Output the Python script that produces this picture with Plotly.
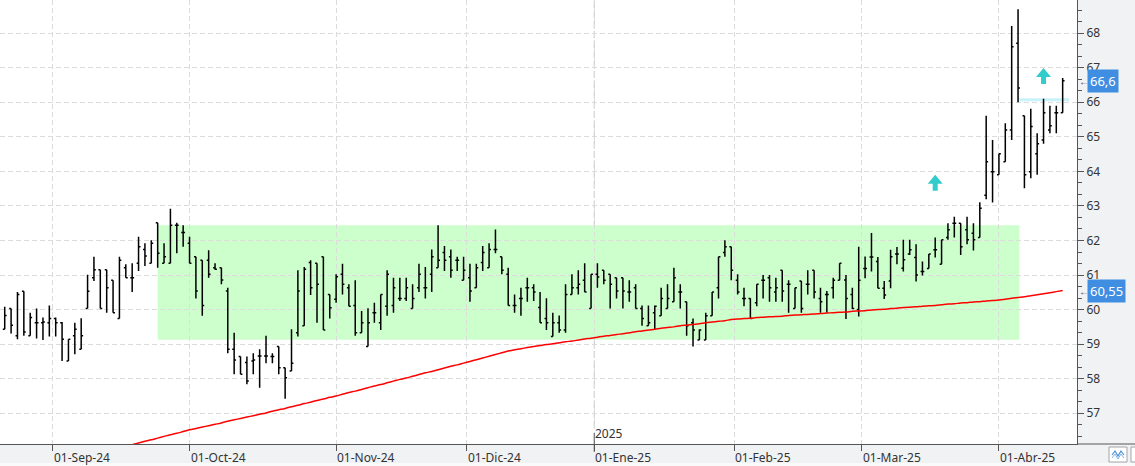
import pandas as pd
import plotly.graph_objects as go

# ---------------- data ----------------
holidays = ["2024-12-25", "2024-12-26", "2025-01-01"]
dates = [d for d in pd.bdate_range("2024-08-21", "2025-04-15") if d.strftime("%Y-%m-%d") not in holidays]

opens = [59.43, 60.03, 59.24, 60.53, 59.24, 59.62, 59.62, 59.62, 59.74, 59.62,
         58.51, 59.24, 58.85, 60.03, 60.92, 61.15, 61.15, 60.85, 59.74, 61.21,
         60.92, 61.34, 61.74, 61.34, 62.51, 61.34, 61.34, 62.44, 62.23, 61.92,
         61.53, 61.43, 61.43, 61.21, 61.21, 60.54, 58.85, 58.64, 58.47, 58.51,
         58.66, 58.66, 58.64, 58.93, 58.32, 58.22, 59.33, 59.53, 61.36, 61.34,
         61.53, 60.44, 60.30, 61.02, 60.63, 60.12, 59.33, 58.93, 59.91, 59.62,
         60.10, 60.12, 60.32, 60.32, 60.03, 60.63, 60.63, 61.02, 61.21, 61.65,
         61.53, 61.43, 60.85, 60.92, 60.63, 61.36, 61.21, 61.74, 61.53, 61.02,
         60.12, 60.32, 60.63, 60.63, 60.06, 59.74, 59.22, 59.62, 59.41, 60.44,
         60.63, 60.85, 60.03, 61.02, 61.14, 61.02, 60.92, 60.92, 60.51, 60.63,
         60.03, 59.53, 59.91, 59.82, 60.03, 60.23, 60.51, 60.23, 59.62, 59.12,
         59.12, 59.82, 60.63, 61.65, 61.82, 60.85, 60.32, 60.32, 60.20, 60.85,
         60.92, 60.51, 61.14, 60.73, 60.03, 60.83, 60.73, 61.14, 60.32, 60.44,
         60.63, 60.85, 60.86, 60.44, 60.00, 61.19, 61.52, 61.39, 60.62, 60.83,
         61.61, 61.20, 61.61, 61.51, 61.10, 61.19, 61.73, 61.31, 62.09, 62.50,
         62.50, 62.31, 62.21, 62.09, 63.31, 63.99, 63.90, 64.28, 65.20, 67.71,
         65.61, 63.99, 64.51, 64.91, 65.20, 65.70, 65.70]
highs = [60.08, 60.03, 60.51, 60.53, 59.91, 60.03, 59.77, 60.12, 59.77, 59.64,
         59.14, 59.62, 59.75, 61.01, 61.53, 61.15, 61.15, 60.85, 61.53, 61.31,
         61.34, 62.11, 61.92, 62.01, 62.51, 61.92, 62.92, 62.51, 62.44, 62.11,
         61.53, 61.43, 61.72, 61.34, 61.21, 60.63, 59.33, 58.64, 58.64, 58.74,
         58.85, 59.24, 58.74, 58.93, 58.32, 59.43, 61.14, 61.23, 61.43, 61.34,
         61.53, 60.44, 61.02, 61.33, 60.73, 60.85, 59.96, 60.04, 60.20, 60.44,
         61.14, 60.92, 60.92, 60.92, 60.73, 61.33, 61.23, 61.74, 62.44, 61.84,
         61.74, 61.53, 61.53, 61.33, 61.33, 61.84, 61.92, 62.32, 61.53, 61.21,
         60.44, 60.63, 60.92, 60.73, 60.51, 60.33, 59.91, 59.83, 60.73, 61.02,
         61.14, 61.34, 61.02, 61.34, 61.14, 61.02, 60.92, 60.92, 60.85, 60.73,
         60.12, 60.12, 60.12, 60.63, 60.73, 61.21, 60.73, 60.23, 59.74, 59.43,
         59.91, 60.51, 61.53, 62.01, 61.82, 61.02, 60.63, 60.33, 60.73, 61.00,
         61.00, 60.92, 61.14, 60.85, 60.63, 60.83, 61.14, 61.14, 60.63, 60.54,
         60.92, 61.34, 61.00, 60.63, 61.82, 61.54, 62.22, 61.52, 60.83, 61.73,
         61.81, 62.02, 62.02, 61.89, 61.39, 61.61, 62.09, 62.02, 62.50, 62.69,
         62.50, 62.69, 62.50, 63.11, 65.61, 64.91, 64.51, 65.39, 68.21, 68.69,
         65.61, 65.81, 65.10, 66.10, 65.90, 65.90, 66.70]
lows = [59.43, 59.31, 59.14, 59.24, 59.24, 59.16, 59.12, 59.22, 59.22, 58.51,
        58.51, 58.71, 58.85, 60.03, 60.83, 60.03, 59.91, 59.91, 59.74, 60.92,
        60.51, 61.12, 61.26, 61.34, 61.21, 61.34, 61.34, 61.63, 61.82, 61.34,
        60.32, 59.82, 60.92, 61.15, 60.73, 58.74, 58.13, 58.13, 57.84, 58.13,
        57.74, 58.45, 58.45, 58.13, 57.42, 58.22, 59.22, 59.53, 60.42, 59.62,
        59.41, 59.74, 60.20, 60.44, 60.10, 59.24, 59.33, 58.93, 59.62, 59.41,
        59.82, 59.91, 60.25, 60.25, 60.03, 60.51, 60.32, 60.51, 61.21, 61.12,
        60.92, 61.12, 60.85, 60.23, 60.63, 61.12, 61.21, 61.63, 61.02, 60.12,
        59.91, 59.82, 60.23, 60.25, 59.62, 59.41, 59.22, 59.33, 59.33, 60.44,
        60.44, 60.51, 60.03, 60.63, 60.73, 60.03, 60.32, 60.03, 60.23, 60.03,
        59.53, 59.53, 59.41, 59.82, 60.03, 60.23, 60.03, 59.24, 58.93, 59.12,
        59.12, 59.82, 60.32, 61.53, 60.85, 60.44, 60.10, 59.74, 60.10, 60.32,
        60.23, 60.23, 60.23, 59.91, 60.03, 59.91, 60.44, 60.32, 59.91, 59.91,
        60.32, 60.85, 59.73, 60.02, 59.80, 60.91, 61.10, 60.62, 60.31, 60.62,
        61.31, 61.10, 61.58, 60.81, 60.99, 61.19, 61.51, 61.31, 62.02, 62.09,
        61.58, 61.89, 61.71, 62.09, 63.19, 63.10, 63.90, 64.28, 64.91, 66.00,
        63.51, 63.80, 63.90, 64.80, 65.10, 65.10, 65.70]
closes = [59.83, 59.55, 60.44, 59.35, 59.77, 59.62, 59.64, 59.74, 59.62, 59.14,
          59.14, 59.43, 59.24, 60.53, 61.15, 60.03, 60.63, 59.91, 61.43, 60.92,
          60.92, 61.82, 61.55, 61.92, 61.63, 61.53, 62.44, 62.44, 62.23, 61.34,
          60.54, 60.12, 61.02, 61.17, 60.86, 58.85, 58.54, 58.13, 57.93, 58.54,
          58.66, 58.66, 58.64, 58.32, 58.03, 58.45, 60.54, 61.17, 60.63, 60.73,
          59.41, 60.05, 60.95, 60.73, 60.10, 59.33, 59.62, 59.62, 59.91, 60.44,
          61.02, 60.63, 60.32, 60.63, 60.32, 61.02, 60.63, 61.53, 61.43, 61.43,
          61.14, 61.43, 61.14, 60.54, 61.21, 61.65, 61.74, 61.74, 61.14, 60.12,
          60.12, 60.32, 60.63, 60.51, 59.62, 59.62, 59.62, 59.41, 60.44, 60.63,
          60.73, 60.51, 61.02, 60.94, 60.85, 60.73, 60.54, 60.54, 60.51, 60.03,
          59.74, 59.62, 60.10, 60.32, 60.32, 60.92, 60.51, 59.53, 59.41, 59.41,
          59.82, 60.51, 61.53, 61.82, 61.14, 60.51, 60.32, 59.74, 60.73, 60.85,
          60.63, 60.63, 60.54, 60.73, 60.63, 60.03, 60.73, 60.51, 60.23, 60.44,
          60.85, 61.34, 60.32, 60.03, 60.85, 61.19, 61.52, 60.62, 60.42, 61.53,
          61.61, 61.44, 61.73, 61.00, 61.10, 61.61, 61.73, 62.02, 62.31, 62.50,
          61.82, 62.02, 62.02, 62.93, 64.28, 63.99, 64.51, 65.20, 67.61, 66.41,
          63.90, 65.30, 64.80, 65.70, 65.32, 65.70, 66.62]

ma_start = 20
ma_values = [56.09, 56.14, 56.19, 56.23, 56.28, 56.33, 56.38, 56.42, 56.47, 56.52,
             56.56, 56.60, 56.64, 56.68, 56.72, 56.77, 56.81, 56.85, 56.89, 56.93,
             56.97, 57.01, 57.06, 57.10, 57.14, 57.19, 57.23, 57.28, 57.32, 57.37,
             57.41, 57.46, 57.50, 57.55, 57.60, 57.64, 57.69, 57.74, 57.79, 57.83,
             57.88, 57.93, 57.98, 58.02, 58.07, 58.12, 58.17, 58.21, 58.26, 58.31,
             58.36, 58.40, 58.45, 58.50, 58.55, 58.60, 58.65, 58.70, 58.75, 58.80,
             58.84, 58.87, 58.90, 58.93, 58.96, 58.99, 59.01, 59.04, 59.07, 59.09,
             59.12, 59.15, 59.17, 59.20, 59.23, 59.25, 59.28, 59.30, 59.33, 59.36,
             59.38, 59.41, 59.43, 59.46, 59.48, 59.50, 59.53, 59.55, 59.57, 59.59,
             59.62, 59.64, 59.66, 59.68, 59.71, 59.73, 59.74, 59.75, 59.77, 59.78,
             59.79, 59.80, 59.81, 59.83, 59.84, 59.85, 59.86, 59.87, 59.89, 59.90,
             59.91, 59.92, 59.93, 59.95, 59.96, 59.97, 59.99, 60.00, 60.01, 60.03,
             60.04, 60.06, 60.07, 60.08, 60.10, 60.11, 60.12, 60.14, 60.16, 60.17,
             60.19, 60.20, 60.22, 60.23, 60.25, 60.26, 60.28, 60.30, 60.33, 60.35,
             60.37, 60.40, 60.43, 60.46, 60.49, 60.52, 60.55]

month_names = {1: "Ene", 2: "Feb", 3: "Mar", 4: "Abr", 8: "Ago", 9: "Sep",
               10: "Oct", 11: "Nov", 12: "Dic"}
zone_start, zone_end = 24, 159.2
zone_low, zone_high = 59.13, 62.44
resist_start, resist_end, resist_level = 159.2, 167.0, 66.07
signal_idx = [146, 163]
signal_price = [63.67, 66.76]
last_price_label = "66,6"
ma_label = "60,55"

# ---------------- figure ----------------
idx = list(range(len(dates)))
PW, PH = 1077.0, 444.0


def pxx(p):
    return p / PW


def pxy(p):
    return (PH - p) / PH


# month ticks (first trading day, shifted half a bar if the 1st is not a session)
tick_pos, tick_txt, seen = [], [], set()
for i, d in enumerate(dates):
    key = (d.year, d.month)
    if key in seen or i == 0:
        seen.add(key)
        continue
    seen.add(key)
    pos = i if d.day == 1 else i - 0.5
    tick_pos.append(pos)
    tick_txt.append("01-%s-%s" % (month_names[d.month], d.strftime("%y")))

fig = go.Figure()
fig.add_trace(go.Ohlc(
    x=idx, open=opens, high=highs, low=lows, close=closes,
    increasing=dict(line=dict(color="black", width=1.5)),
    decreasing=dict(line=dict(color="black", width=1.5)),
    tickwidth=0.3, showlegend=False, hoverinfo="skip"))
fig.add_trace(go.Scatter(
    x=idx[ma_start:], y=ma_values, mode="lines", line_shape="spline",
    line=dict(color="#ff0000", width=1.5), showlegend=False, hoverinfo="skip"))

shapes = []
shapes.append(dict(type="rect", xref="x", yref="y", x0=zone_start, x1=zone_end,
                   y0=zone_low, y1=zone_high, fillcolor="#ccffcc", line=dict(width=0),
                   layer="below"))
shapes.append(dict(type="line", xref="x", yref="y", x0=resist_start, x1=resist_end,
                   y0=resist_level, y1=resist_level, line=dict(color="#c8f2fa", width=3),
                   layer="below"))
arrow_path = "M0,8 L7.5,-1 L2.5,-1 L2.5,-8 L-2.5,-8 L-2.5,-1 L-7.5,-1 Z"
for sx, sy in zip(signal_idx, signal_price):
    shapes.append(dict(type="path", xref="x", yref="y", xsizemode="pixel", ysizemode="pixel",
                       xanchor=sx, yanchor=sy, path=arrow_path, fillcolor="#33cccc",
                       line=dict(width=0), layer="above"))
# 2025 year separator
jan_pos = tick_pos[tick_txt.index("01-Ene-25")]
shapes.append(dict(type="line", xref="x", yref="paper", x0=jan_pos, x1=jan_pos,
                   y0=pxy(428), y1=1, line=dict(color="#c4c4c4", width=1, dash="7px,3px"),
                   layer="below"))
shapes.append(dict(type="line", xref="x", yref="paper", x0=jan_pos, x1=jan_pos,
                   y0=pxy(452), y1=pxy(433), line=dict(color="#555555", width=1),
                   layer="above"))
# bottom axis line under right panel, bottom strip
shapes.append(dict(type="line", xref="paper", yref="paper", x0=1, x1=pxx(1135),
                   y0=0, y1=0, line=dict(color="#555555", width=1)))
shapes.append(dict(type="rect", xref="paper", yref="paper", x0=pxx(-1), x1=pxx(1136),
                   y0=pxy(463), y1=pxy(467), fillcolor="#fafafa", line=dict(width=0)))
# small toolbar buttons bottom-right
shapes.append(dict(type="rect", xref="paper", yref="paper", x0=pxx(1109), x1=pxx(1127),
                   y0=pxy(462), y1=pxy(447), fillcolor="white",
                   line=dict(color="#a0a4aa", width=1)))
shapes.append(dict(type="rect", xref="paper", yref="paper", x0=pxx(1131), x1=pxx(1140),
                   y0=pxy(462), y1=pxy(447), fillcolor="white",
                   line=dict(color="#a0a4aa", width=1)))
zig = [(1112, 455), (1115, 451), (1118, 456), (1121, 451), (1124, 455)]
shapes.append(dict(type="path", xref="paper", yref="paper",
                   path="M" + " L".join("%f,%f" % (pxx(a), pxy(b)) for a, b in zig),
                   line=dict(color="#4a8fd8", width=1.2)))
zig2 = [(1112, 458), (1115, 454), (1118, 459), (1121, 454), (1124, 458)]
shapes.append(dict(type="path", xref="paper", yref="paper",
                   path="M" + " L".join("%f,%f" % (pxx(a), pxy(b)) for a, b in zig2),
                   line=dict(color="#7fb2e6", width=1)))

annotations = []
for p, t in zip(tick_pos, tick_txt):
    annotations.append(dict(x=p, xref="x", y=0, yref="paper", text=t, showarrow=False,
                            xanchor="left", yanchor="top", yshift=-3, xshift=-1,
                            font=dict(size=12, color="#333333")))
annotations.append(dict(x=jan_pos, xref="x", y=0, yref="paper", text="2025", showarrow=False,
                        xanchor="left", yanchor="bottom", yshift=0, xshift=-1,
                        font=dict(size=12, color="#333333")))
for lab, val in [(last_price_label, closes[-1]), (ma_label, ma_values[-1])]:
    annotations.append(dict(x=pxx(1087), xref="paper", y=val, yref="y", text=lab,
                            showarrow=False, xanchor="left", yanchor="middle",
                            bgcolor="#3f8ee2", borderpad=2,
                            font=dict(size=13, color="white")))
    annotations.append(dict(x=pxx(1077), xref="paper", y=val, yref="y", text="←",
                            showarrow=False, xanchor="left", yanchor="middle",
                            font=dict(size=10, color="#444444")))

fig.update_layout(
    width=1135, height=466,
    margin=dict(l=0, r=58, t=0, b=22),
    paper_bgcolor="#f1f2f4", plot_bgcolor="white",
    font=dict(family="Noto Sans", size=12, color="#333333"),
    showlegend=False, shapes=shapes, annotations=annotations,
    xaxis=dict(range=[-0.74, 168.25], tickmode="array", tickvals=tick_pos, ticktext=tick_txt,
               showticklabels=False, ticks="outside", ticklen=6, tickcolor="#555555",
               showgrid=True, gridcolor="#dcdcdc", griddash="5px,3px", gridwidth=1,
               showline=True, linecolor="#555555", linewidth=1, zeroline=False,
               rangeslider=dict(visible=False), fixedrange=True),
    yaxis=dict(side="right", range=[56.11, 68.96], tick0=0, dtick=1,
               ticks="outside", ticklen=6, tickcolor="#555555",
               minor=dict(dtick=1 / 3, tick0=0, ticks="outside", ticklen=4,
                          tickcolor="#555555", showgrid=False),
               showgrid=True, gridcolor="#dcdcdc", griddash="5px,3px", gridwidth=1,
               showline=True, linecolor="#555555", linewidth=1, zeroline=False,
               tickfont=dict(size=12, color="#333333"), fixedrange=True),
)

fig.write_html("out.html", config={"displayModeBar": False},
               post_script="document.body.style.margin='0';document.body.style.overflow='hidden';")
